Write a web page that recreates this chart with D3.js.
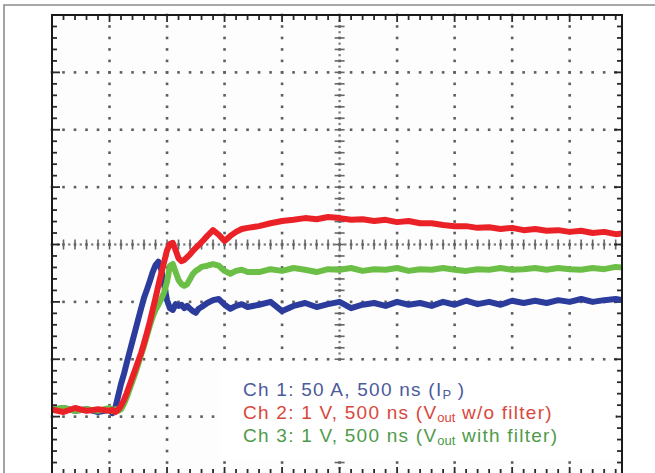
<!DOCTYPE html>
<html>
<head>
<meta charset="utf-8">
<script src="https://cdn.jsdelivr.net/npm/d3@7"></script>
<style>
  html, body { margin: 0; padding: 0; background: #ffffff; }
  svg { display: block; }
</style>
</head>
<body>
<svg id="chart" width="655" height="473"></svg>
<script>
// ---- data (time in ns, values in screen divisions relative to centre line) ----
const timeNs = [0,100,200,300,400,500,
  525,550,575,600,625,650,675,700,725,750,775,800,825,850,875,900,925,950,975,1000,
  1025,1050,1075,1100,1125,1150,1175,1200,1225,1250,1275,1300,
  1350,1400,1450,1500,1550,1600,1650,1700,
  1800,1900,2000,2100,2200,2300,2400,2500,2600,2700,2800,2900,3000,3100,3200,3300,3400,
  3500,3600,3700,3800,3900,4000,4100,4200,4300,4400,4500,4600,4700,4800,4900,5000];

const ch1Ip = [-2.88,-2.85,-2.90,-2.87,-2.92,-2.88,
  -2.94,-2.85,-2.64,-2.43,-2.26,-2.06,-1.87,-1.68,-1.49,-1.30,-1.11,-0.93,-0.79,-0.64,-0.48,-0.36,-0.30,-0.44,-0.71,-0.97,
  -1.11,-1.14,-1.04,-1.07,-1.05,-1.11,-1.07,-1.12,-1.16,-1.19,-1.12,-1.09,
  -1.02,-0.97,-0.95,-1.05,-1.12,-1.07,-1.04,-1.09,
  -1.05,-1.00,-1.16,-1.07,-1.02,-1.09,-1.04,-1.00,-1.11,-1.05,-1.02,-1.07,-1.00,-1.05,-1.02,-1.07,-1.00,
  -1.05,-0.98,-1.04,-1.00,-1.05,-0.98,-1.02,-0.98,-1.02,-0.97,-1.00,-0.95,-1.00,-0.97,-0.95,-0.98];

const ch2VoutNoFilter = [-2.88,-2.92,-2.85,-2.90,-2.87,-2.90,
  -2.88,-2.92,-2.88,-2.81,-2.71,-2.59,-2.45,-2.31,-2.17,-2.03,-1.89,-1.72,-1.54,-1.35,-1.14,-0.93,-0.71,-0.50,-0.30,-0.10,
  0.01,0.03,-0.10,-0.24,-0.29,-0.27,-0.22,-0.17,-0.11,-0.06,-0.01,0.04,
  0.15,0.25,0.17,0.06,0.15,0.22,0.27,0.29,
  0.32,0.37,0.41,0.43,0.46,0.44,0.48,0.46,0.43,0.44,0.41,0.43,0.39,0.41,0.37,0.37,0.34,
  0.32,0.32,0.29,0.30,0.27,0.29,0.25,0.27,0.24,0.25,0.22,0.24,0.20,0.22,0.18,0.20];

const ch3VoutFilter = [-2.88,-2.85,-2.90,-2.87,-2.90,-2.85,
  -2.90,-2.87,-2.90,-2.87,-2.78,-2.66,-2.52,-2.38,-2.24,-2.08,-1.92,-1.77,-1.59,-1.42,-1.26,-1.14,-1.05,-0.95,-0.83,-0.65,
  -0.37,-0.34,-0.48,-0.62,-0.69,-0.72,-0.69,-0.60,-0.51,-0.46,-0.43,-0.39,
  -0.37,-0.34,-0.37,-0.46,-0.51,-0.46,-0.44,-0.48,
  -0.48,-0.43,-0.46,-0.41,-0.44,-0.48,-0.43,-0.44,-0.41,-0.46,-0.43,-0.44,-0.41,-0.46,-0.43,-0.44,-0.41,
  -0.44,-0.46,-0.43,-0.44,-0.41,-0.44,-0.43,-0.41,-0.44,-0.41,-0.43,-0.44,-0.41,-0.43,-0.39,-0.41];

const seriesNames = ["Ch 1", "Ch 2", "Ch 3"];
const seriesColors = ["#2b3c9c", "#ea2228", "#6cbf46"];
const legendColors = ["#4d5a9c", "#d9473c", "#4f9a4a"];
const legendLabels = [
  [["Ch 1: 50 A, 500 ns (I", false], ["P", true], [" )", false]],
  [["Ch 2: 1 V, 500 ns (V", false], ["out", true], [" w/o filter)", false]],
  [["Ch 3: 1 V, 500 ns (V", false], ["out", true], [" with filter)", false]]
];

// screen: 500 ns/div horizontally, 8 divisions vertically
const timeDomain = [0, 4955];
const divDomain = [-4, 4];
const majorTimes = d3.range(0, 5001, 500);
const minorTimes = d3.range(0, 4955, 100);
const majorDivs = d3.range(-4, 4.001, 1);
const minorDivs = d3.range(-4, 4.001, 0.2).map(v => Math.round(v * 10) / 10);

// ---- drawing ----
const svg = d3.select("#chart");
const x = d3.scaleLinear().domain(timeDomain).range([52, 622]);
const y = d3.scaleLinear().domain(divDomain).range([474, 15]);

// outer frame of the figure
svg.append("path")
  .attr("d", "M4,473 L4,5 L655,5")
  .attr("fill", "none").attr("stroke", "#8c8c8c").attr("stroke-width", 1.6);

// plot background
svg.append("rect")
  .attr("x", x(0)).attr("y", y(4))
  .attr("width", x(timeDomain[1]) - x(0)).attr("height", y(-4) - y(4))
  .attr("fill", "#fdfdfd");

const grid = svg.append("g");
const dotColor = "#5e5e5e";
const dot = (cx, cy, c, s) => grid.append("rect")
  .attr("x", cx - s / 2).attr("y", cy - s / 2)
  .attr("width", s).attr("height", s).attr("fill", c);

// dotted vertical division lines
majorTimes.filter(t => t > 0 && t < timeDomain[1]).forEach(t => {
  minorDivs.forEach(v => dot(x(t), y(v), dotColor, 2.6));
});
// dotted horizontal division lines
majorDivs.filter(v => v > -4 && v < 4).forEach(v => {
  minorTimes.forEach(t => dot(x(t), y(v), dotColor, 2.6));
});

// centre graticule with fine ticks
const tCenter = 2500, vCenter = 0;
minorDivs.forEach(v => {
  grid.append("line").attr("x1", x(tCenter) - 5).attr("x2", x(tCenter) + 5)
    .attr("y1", y(v)).attr("y2", y(v))
    .attr("stroke", "#666").attr("stroke-width", 1.6);
});
d3.range(-4, 4, 0.2).forEach(v => dot(x(tCenter), y(v + 0.1), "#777", 2.2));
minorTimes.forEach(t => {
  grid.append("line").attr("x1", x(t)).attr("x2", x(t))
    .attr("y1", y(vCenter) - 5).attr("y2", y(vCenter) + 5)
    .attr("stroke", "#666").attr("stroke-width", 1.6);
  dot(x(t + 50), y(vCenter), "#777", 2.2);
});

// border ticks
const tickColor = "#2a2a2a";
minorTimes.filter(t => t > 0).forEach(t => {
  const len = (t % 500 === 0) ? 7 : 5;
  grid.append("line").attr("x1", x(t)).attr("x2", x(t))
    .attr("y1", y(4)).attr("y2", y(4) + len).attr("stroke", tickColor).attr("stroke-width", 1.8);
  grid.append("line").attr("x1", x(t)).attr("x2", x(t))
    .attr("y1", y(-4)).attr("y2", y(-4) - len).attr("stroke", tickColor).attr("stroke-width", 1.8);
});
minorDivs.filter(v => v > -4 && v < 4).forEach(v => {
  const len = (Math.abs(v - Math.round(v)) < 1e-6) ? 8 : 5;
  grid.append("line").attr("x1", x(0)).attr("x2", x(0) + len)
    .attr("y1", y(v)).attr("y2", y(v)).attr("stroke", tickColor).attr("stroke-width", 1.8);
  grid.append("line").attr("x1", x(timeDomain[1])).attr("x2", x(timeDomain[1]) - len)
    .attr("y1", y(v)).attr("y2", y(v)).attr("stroke", tickColor).attr("stroke-width", 1.8);
});

// clip for traces
svg.append("clipPath").attr("id", "plotClip").append("rect")
  .attr("x", x(0)).attr("y", y(4))
  .attr("width", x(timeDomain[1]) - x(0)).attr("height", y(-4) - y(4));

const line = d3.line().x(d => x(d[0])).y(d => y(d[1])).curve(d3.curveLinear);
const seriesData = [ch1Ip, ch2VoutNoFilter, ch3VoutFilter];
const drawOrder = [0, 2, 1];
const traces = svg.append("g").attr("clip-path", "url(#plotClip)");
drawOrder.forEach(i => {
  const pts = timeNs.map((t, j) => [t, seriesData[i][j]]);
  traces.append("path").datum(pts)
    .attr("class", "trace " + seriesNames[i])
    .attr("d", line)
    .attr("fill", "none")
    .attr("stroke", seriesColors[i])
    .attr("stroke-width", 6)
    .attr("stroke-linejoin", "round")
    .attr("stroke-linecap", "round");
});

// plot border
svg.append("rect")
  .attr("x", x(0)).attr("y", y(4))
  .attr("width", x(timeDomain[1]) - x(0)).attr("height", y(-4) - y(4))
  .attr("fill", "none").attr("stroke", "#1a1a1a").attr("stroke-width", 2);

// legend
const legend = svg.append("g");
legend.append("rect")
  .attr("x", x(1460)).attr("y", y(-2.03))
  .attr("width", x(4900) - x(1460)).attr("height", y(-3.75) - y(-2.03))
  .attr("fill", "#ffffff");
legendLabels.forEach((parts, i) => {
  const txt = legend.append("text")
    .attr("x", 243).attr("y", 396 + i * 23)
    .attr("font-family", "'Liberation Sans', Arial, sans-serif")
    .attr("font-size", 19)
    .attr("letter-spacing", 1.25)
    .attr("fill", legendColors[i]);
  parts.forEach(([s, sub], k) => {
    const ts = txt.append("tspan").text(s);
    if (sub) ts.attr("font-size", 13).attr("dy", 3).attr("letter-spacing", 0);
    else if (k > 0 && parts[k - 1][1]) ts.attr("dy", -3);
  });
});
</script>
</body>
</html>
